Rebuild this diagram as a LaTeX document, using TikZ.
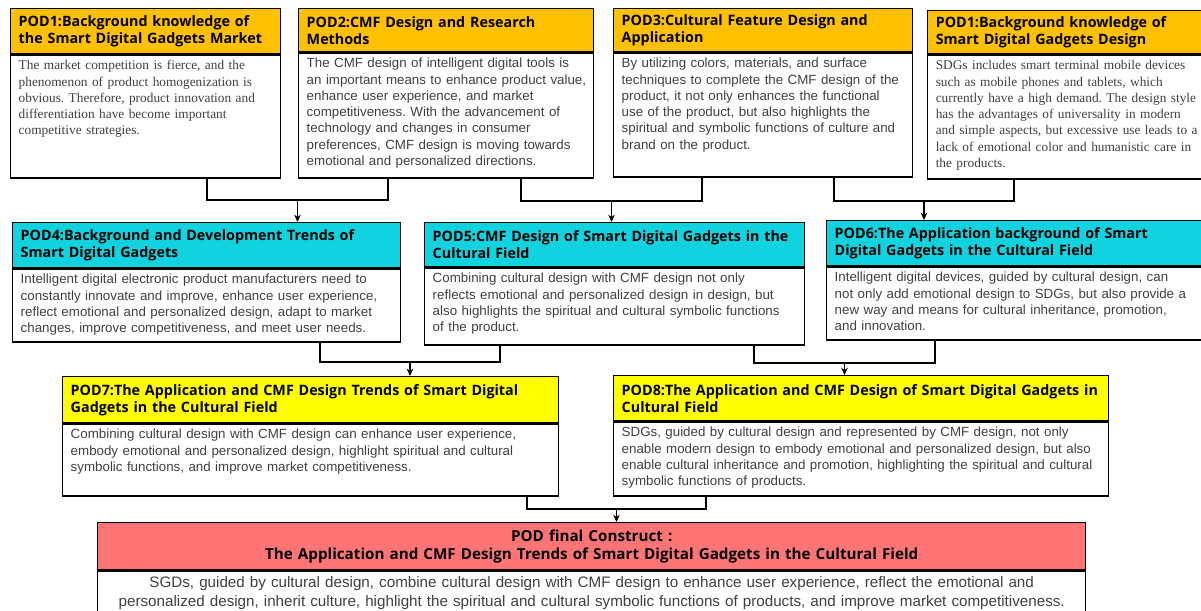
\documentclass[tikz,border=0pt]{standalone}
\usepackage{fontspec}
\setmainfont{Liberation Serif}
\setsansfont{Liberation Sans}
\newfontfamily\headfont{Open Sans}
\usetikzlibrary{positioning,arrows.meta}
\frenchspacing

\definecolor{podOrange}{HTML}{FFC000}
\definecolor{podCyan}{HTML}{11D3DF}
\definecolor{podYellow}{HTML}{FFFF00}
\definecolor{podRed}{HTML}{FF7575}
\definecolor{podText}{HTML}{404040}

\begin{document}
\begin{tikzpicture}
[x=0.75pt,y=-0.75pt,%
  headBox/.style={draw,line width=1.1pt,anchor=north west,inner xsep=6pt,align=left,%
    font=\headfont\bfseries\fontsize{10.75}{12.75}\selectfont},%
  bodyBox/.style={draw,line width=1.1pt,fill=white,anchor=north west,inner xsep=6pt,%
    inner ysep=3pt,text height=8pt,align=left,text=podText},%
  sansText/.style={font=\sffamily\fontsize{10}{12.2}\selectfont},%
  serifText/.style={font=\rmfamily\fontsize{10}{12.2}\selectfont},%
  linkLine/.style={line width=1.1pt},%
  linkArrow/.style={-{Stealth[length=5.5pt,width=5pt]},line width=1.1pt}]
\useasboundingbox (0,0) rectangle (1201,610);

%% first row
\node (pod1h) at (10,8) [headBox,fill=podOrange,text width=190.5pt,minimum height=33.75pt]
  {POD1:Background knowledge of\\the Smart Digital Gadgets Market};
\node (pod1) at (pod1h.south west) [bodyBox,serifText,text width=190.5pt,text depth=78.25pt]
  {The market competition is fierce, and the\\phenomenon of product homogenization is\\obvious. Therefore, product innovation and\\differentiation have become important\\competitive strategies.};

\node (pod2h) at (298,8) [headBox,fill=podOrange,text width=209.25pt,minimum height=32.25pt]
  {POD2:CMF Design and Research\\Methods};
\node (pod2) at (pod2h.south west) [bodyBox,sansText,text width=209.25pt,text depth=79.75pt]
  {The CMF design of intelligent digital tools is\\\mbox{an important means to enhance product value,}\\enhance user experience, and market\\competitiveness. With the advancement of\\technology and changes in consumer\\preferences, CMF design is moving towards\\emotional and personalized directions.};

\node (pod3h) at (613,8) [headBox,fill=podOrange,text width=212.25pt,minimum height=32.25pt]
  {POD3:Cultural Feature Design and\\Application};
\node (pod3) at (pod3h.south west) [bodyBox,sansText,text width=212.25pt,text depth=79pt]
  {By utilizing colors, materials, and surface\\techniques to complete the CMF design of the\\product, it not only enhances the functional\\use of the product, but also highlights the\\spiritual and symbolic functions of culture and\\brand on the product.};

\node (pod1bh) at (927,10) [headBox,fill=podOrange,text width=204pt,minimum height=32.25pt]
  {POD1:Background knowledge of\\Smart Digital Gadgets Design};
\node (pod1b) at (pod1bh.south west) [bodyBox,serifText,text width=204pt,text depth=79pt]
  {SDGs includes smart terminal mobile devices\\such as mobile phones and tablets, which\\currently have a high demand. The design style\\has the advantages of universality in modern\\and simple aspects, but excessive use leads to a\\lack of emotional color and humanistic care in\\the products.};

%% second row
\node (pod4h) at (12,222) [headBox,fill=podCyan,text width=279pt,minimum height=33.75pt]
  {POD4:Background and Development Trends of\\Smart Digital Gadgets};
\node (pod4) at (pod4h.south west) [bodyBox,sansText,text width=279pt,text depth=40.75pt]
  {Intelligent digital electronic product manufacturers need to\\constantly innovate and improve, enhance user experience,\\reflect emotional and personalized design, adapt to market\\changes, improve competitiveness, and meet user needs.};

\node (pod5h) at (424,222) [headBox,fill=podCyan,text width=273pt,minimum height=33pt]
  {POD5:CMF Design of Smart Digital Gadgets in the\\Cultural Field};
\node (pod5) at (pod5h.south west) [bodyBox,sansText,text width=273pt,text depth=43.75pt]
  {Combining cultural design with CMF design not only\\reflects emotional and personalized design in design, but\\also highlights the spiritual and cultural symbolic functions\\of the product.};

\node (pod6h) at (826,220) [headBox,fill=podCyan,text width=280.5pt,minimum height=33.75pt]
  {POD6:The Application background of Smart\\Digital Gadgets in the Cultural Field};
\node (pod6) at (pod6h.south west) [bodyBox,sansText,text width=280.5pt,text depth=40.75pt]
  {Intelligent digital devices, guided by cultural design, can\\not only add emotional design to SDGs, but also provide a\\new way and means for cultural inheritance, promotion,\\and innovation.};

%% third row
\node (pod7h) at (62,376) [headBox,fill=podYellow,text width=360pt,minimum height=34.5pt]
  {POD7:The Application and CMF Design Trends of Smart Digital\\Gadgets in the Cultural Field};
\node (pod7) at (pod7h.south west) [bodyBox,sansText,text width=360pt,text depth=40pt]
  {Combining cultural design with CMF design can enhance user experience,\\embody emotional and personalized design, highlight spiritual and cultural\\symbolic functions, and improve market competitiveness.};

\node (pod8h) at (613,375) [headBox,fill=podYellow,text width=359.25pt,minimum height=33.75pt]
  {POD8:The Application and CMF Design of Smart Digital Gadgets in\\Cultural Field};
\node (pod8) at (pod8h.south west) [bodyBox,sansText,text width=359.25pt,text depth=41.5pt]
  {SDGs, guided by cultural design and represented by CMF design, not only\\enable modern design to embody emotional and personalized design, but also\\enable cultural inheritance and promotion, highlighting the spiritual and cultural\\symbolic functions of products.};

%% final construct
\node (podfh) at (97,522) [headBox,fill=podRed,align=center,text width=729pt,minimum height=35.25pt,
  font=\headfont\bfseries\fontsize{11.4}{13.5}\selectfont]
  {POD final Construct :\\The Application and CMF Design Trends of Smart Digital Gadgets in the Cultural Field};
\node (podf) at (podfh.south west) [bodyBox,align=center,inner ysep=3pt,text height=9pt,text width=729pt,text depth=31pt,
  font=\sffamily\fontsize{11.4}{14.5}\selectfont]
  {SGDs, guided by cultural design, combine cultural design with CMF design to enhance user experience, reflect the emotional and\\personalized design, inherit culture, highlight the spiritual and cultural symbolic functions of products, and improve market competitiveness.};

%% joining lines and arrows
\foreach \src/\sx/\dst/\dx/\tgt/\ly in {pod1/207/pod2/388/pod4h/200, pod2/521/pod3/702/pod5h/201,
  pod3/834/pod1b/1014/pod6h/201, pod4/320/pod5/500/pod7h/362,
  pod5/754/pod6/935/pod8h/363, pod7/527/pod8/706/podfh/509}
{
  \draw[linkLine] (\sx,0 |- \src.south) -- (\sx,\ly) -- (\dx,\ly) -- (\dx,0 |- \dst.south);
  \pgfmathsetmacro\mx{(\sx+\dx)/2}
  \draw[linkArrow] (\mx,\ly) -- (\mx,0 |- \tgt.north);
}
\end{tikzpicture}
\end{document}
